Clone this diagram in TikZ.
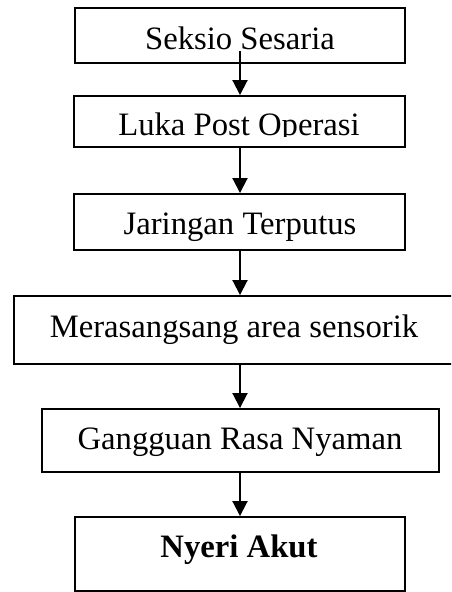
\documentclass[tikz,border=0pt]{standalone}
\usepackage{fontspec}
\setmainfont{Liberation Serif}
\usetikzlibrary{arrows.meta}

\begin{document}
\begin{tikzpicture}[
    x=0.02cm, y=-0.02cm,
    box/.style={rectangle, draw=black, line width=1.1pt, inner sep=0pt, fill=white},
    lbl/.style={anchor=base, inner sep=0pt, font=\fontsize{18.6}{22}\selectfont},
    lblbold/.style={lbl, font=\fontsize{18.6}{22}\selectfont\bfseries},
    flow/.style={-{Triangle[length=0.3cm, width=0.3cm]}, line width=1.1pt}
]
  \clip (0,0) rectangle (451,592);

  % boxes
  \node[box, minimum width=6.6cm, minimum height=1.1cm] (b1) at (240,35.5) {};
  \node[box, minimum width=6.62cm, minimum height=1.02cm] (b2) at (239.5,121.5) {};
  \node[box, minimum width=6.62cm, minimum height=1.12cm] (b3) at (239.5,222) {};
  \node[box, minimum width=8.8cm, minimum height=1.36cm] (b4) at (234,330) {};
  \node[box, minimum width=7.94cm, minimum height=1.26cm] (b5) at (240.5,440.5) {};
  \node[box, minimum width=6.6cm, minimum height=1.48cm] (b6) at (240,554) {};

  % texts
  \node[lbl] (t1) at (240,49) {Seksio Sesaria};
  \begin{scope}
    \clip (b2.north west) rectangle (405,136.5);
    \node[lbl] (t2) at (239,135) {Luka Post Operasi};
  \end{scope}
  \node[lbl] (t3) at (240,234) {Jaringan Terputus};
  \node[lbl] (t4) at (234,337) {Merasangsang area sensorik};
  \node[lbl] (t5) at (240,449) {Gangguan Rasa Nyaman};
  \node[lblbold] (t6) at (239,557) {Nyeri Akut};

  % arrows
  \coordinate (s1) at (240,51);
  \draw[flow] (s1) -- (s1 |- b2.north);
  \draw[flow] (b2.south -| s1) -- (s1 |- b3.north);
  \draw[flow] (b3.south -| s1) -- (s1 |- b4.north);
  \draw[flow] (b4.south -| s1) -- (s1 |- b5.north);
  \draw[flow] (b5.south -| s1) -- (s1 |- b6.north);
\end{tikzpicture}
\end{document}
